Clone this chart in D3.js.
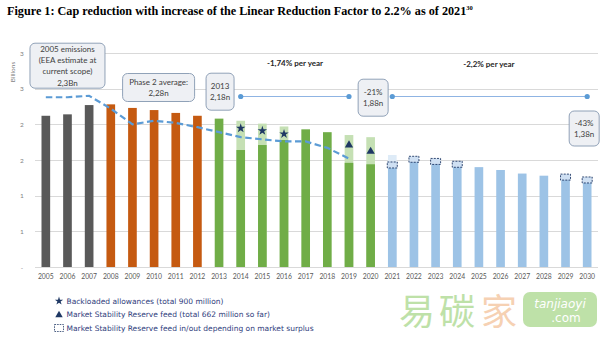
<!DOCTYPE html>
<html><head><meta charset="utf-8">
<script src="https://cdn.jsdelivr.net/npm/d3@7"></script>
<style>body{margin:0;background:#fff}</style>
</head><body>
<svg id="c" width="603" height="339"></svg>
<script>
// ---------- DATA ----------
const years = ["2005","2006","2007","2008","2009","2010","2011","2012","2013","2014","2015","2016","2017","2018","2019","2020","2021","2022","2023","2024","2025","2026","2027","2028","2029","2030"];
const phases = ["hist","hist","hist","p2","p2","p2","p2","p2","p3","p3","p3","p3","p3","p3","p3","p3","p4","p4","p4","p4","p4","p4","p4","p4","p4","p4"];
const capValues = [2.12,2.14,2.27,2.28,2.23,2.20,2.16,2.12,2.08,1.64,1.71,1.78,1.93,1.89,1.46,1.44,1.44,1.54,1.50,1.46,1.40,1.36,1.31,1.28,1.27,1.23];
const reserveTops = [null,null,null,null,null,null,null,null,null,2.05,2.01,1.97,null,null,1.85,1.82,1.57,null,null,null,null,null,null,null,null,null];
const emissionYears = ["2005","2006","2007","2008","2009","2010","2011","2012","2013","2014","2015","2016","2017","2018","2019"];
const emissionValues = [2.38,2.38,2.40,2.22,2.00,2.05,2.02,1.96,1.89,1.82,1.79,1.76,1.76,1.67,1.52];
const backloadYears = ["2014","2015","2016"];
const backloadValues = [1.945,1.91,1.865];
const msrYears = ["2019","2020"];
const msrValues = [1.71,1.62];
const flexYears = ["2021","2022","2023","2024","2029","2030"];
const flexValues = [1.43,1.51,1.48,1.44,1.26,1.22];
const refSegments = [["2014","2019"],["2021","2030"]];
const refValue = 2.39;
const yTicks = [0,0.5,1,1.5,2,2.5,3];
const yTickLabels = ["-","1","1","2","2","3","3"];
const legendLabels = ["Backloaded allowances (total 900 million)","Market Stability Reserve feed (total 662 million so far)","Market Stability Reserve feed in/out depending on market surplus"];
const rateLabels = ["-1,74% per year","-2,2% per year"];
const annotationTexts = [["2005 emissions","(EEA estimate at","current scope)","2,3Bn"],["Phase 2 average:","2,28n"],["2013","2,18n"],["-21%","1,88n"],["-43%","1,38n"]];

// ---------- LAYOUT ----------
const svg = d3.select("#c");
const x = d3.scaleBand().domain(years).range([35,598]).paddingInner(0.6).paddingOuter(0.3);
const y = d3.scaleLinear().domain([0,3]).range([267,53]);
const cx = yr => x(yr) + x.bandwidth()/2;
const colors = {hist:"#595959",p2:"#c55a11",p3:"#70ad47",p4:"#9dc3e6"};
const lightColors = {p3:"#c5e0b4",p4:"#deebf7"};
const navy = "#1f3864";

// title
const t = svg.append("text").attr("x",7).attr("y",15)
  .attr("font-family","Liberation Serif, Times New Roman, serif").attr("font-weight","bold")
  .attr("font-size",12.2).attr("fill","#000");
t.append("tspan").text("Figure 1: Cap reduction with increase of the Linear Reduction Factor to 2.2% as of 2021");
t.append("tspan").attr("font-size",6.5).attr("dy",-5).text("30");

// grid
svg.append("g").selectAll("line").data(yTicks).join("line")
  .attr("x1",35).attr("x2",598).attr("y1",d=>Math.round(y(d))+0.5).attr("y2",d=>Math.round(y(d))+0.5)
  .attr("stroke","#d9d9d9").attr("stroke-width",1);
svg.append("g").selectAll("text").data(yTicks).join("text")
  .attr("x",22).attr("y",d=>y(d)+2.5).attr("text-anchor","middle")
  .attr("font-family","Lato, sans-serif").attr("font-size",6.5).attr("fill","#7f7f7f")
  .text((d,i)=>yTickLabels[i]);
svg.append("text").attr("transform","translate(15,72) rotate(-90)").attr("text-anchor","middle")
  .attr("font-family","Lato, sans-serif").attr("font-size",6.5).attr("fill","#7f7f7f").text("Billions");

// x axis labels
svg.append("g").selectAll("text").data(years).join("text")
  .attr("x",d=>cx(d)).attr("y",279).attr("text-anchor","middle")
  .attr("font-family","Lato, sans-serif").attr("font-size",6.8).attr("fill","#595959").text(d=>d);

// bars: light reserve tops
const barData = years.map((yr,i)=>({yr,phase:phases[i],v:capValues[i],top:reserveTops[i]}));
svg.append("g").selectAll("rect").data(barData.filter(d=>d.top!=null)).join("rect")
  .attr("x",d=>x(d.yr)).attr("width",x.bandwidth())
  .attr("y",d=>y(d.top)).attr("height",d=>y(0)-y(d.top))
  .attr("fill",d=>lightColors[d.phase]);
svg.append("g").selectAll("rect").data(barData).join("rect")
  .attr("x",d=>x(d.yr)).attr("width",x.bandwidth())
  .attr("y",d=>y(d.v)).attr("height",d=>y(0)-y(d.v))
  .attr("fill",d=>colors[d.phase]);

// emissions dashed line
svg.append("path").datum(emissionYears.map((yr,i)=>[cx(yr),y(emissionValues[i])]))
  .attr("d",d3.line()).attr("fill","none").attr("stroke","#5b9bd5")
  .attr("stroke-width",2.2).attr("stroke-dasharray","6.5,3.5");

// reference line with dots
refSegments.forEach(seg=>{
  svg.append("line").attr("x1",cx(seg[0])).attr("x2",cx(seg[1])).attr("y1",y(refValue)).attr("y2",y(refValue))
    .attr("stroke","#8fb4e3").attr("stroke-width",1);
  seg.forEach(yr=>svg.append("circle").attr("cx",cx(yr)).attr("cy",y(refValue)).attr("r",2.6).attr("fill","#5b9bd5"));
});

// markers
svg.append("g").selectAll("path").data(backloadYears).join("path")
  .attr("transform",(d,i)=>`translate(${cx(d)},${y(backloadValues[i])})`)
  .attr("d",d3.symbol(d3.symbolStar,28)).attr("fill",navy);
svg.append("g").selectAll("path").data(msrYears).join("path")
  .attr("transform",(d,i)=>`translate(${cx(d)},${y(msrValues[i])})`)
  .attr("d",d3.symbol(d3.symbolTriangle,30)).attr("fill",navy);
svg.append("g").selectAll("rect").data(flexYears).join("rect")
  .attr("x",d=>cx(d)-5).attr("y",(d,i)=>y(flexValues[i])-3).attr("width",10).attr("height",6)
  .attr("fill","#cfe0f3").attr("stroke",navy).attr("stroke-width",0.9).attr("stroke-dasharray","2,1.2");

// rate labels
[[cx("2016")+11,63,rateLabels[0]],[cx("2025")+10,64,rateLabels[1]]].forEach(r=>{
  svg.append("text").attr("x",r[0]).attr("y",r[1]+3).attr("text-anchor","middle")
    .attr("font-family","Lato, sans-serif").attr("font-weight","bold").attr("font-size",8)
    .attr("fill","#262626").text(r[2]);
});

// annotation boxes (anchored to year centres)
const boxes = [
  {cxp:cx("2006"),cy:65.7,w:75,h:45},
  {cxp:cx("2010")+4.5,cy:87.5,w:72,h:28},
  {cxp:cx("2013")+1,cy:91.7,w:28,h:37},
  {cxp:(cx("2019")+cx("2021"))/2+2.5,cy:97.7,w:30,h:37},
  {cxp:cx("2030")-3,cy:128.5,w:30,h:35}
];
boxes.forEach((b,i)=>{
  const g = svg.append("g");
  g.append("rect").attr("x",b.cxp-b.w/2).attr("y",b.cy-b.h/2).attr("width",b.w).attr("height",b.h)
    .attr("rx",5).attr("fill","#eef0f4").attr("stroke","#8497b0").attr("stroke-width",0.9);
  const lines = annotationTexts[i];
  const lh = 11.2;
  lines.forEach((s,j)=>{
    g.append("text").attr("x",b.cxp).attr("y",b.cy+(j-(lines.length-1)/2)*lh+3)
      .attr("text-anchor","middle").attr("font-family","Lato, sans-serif").attr("font-size",8)
      .attr("fill","#404040").text(s);
  });
});

// legend
const lg = svg.append("g");
legendLabels.forEach((s,i)=>{
  const ly = 301 + i*13.5;
  lg.append("text").attr("x",66.5).attr("y",ly+2.8).attr("font-family","DejaVu Sans, Verdana, sans-serif")
    .attr("font-size",7.5).attr("fill","#2f3d7c").text(s);
});
lg.append("path").attr("transform","translate(59,301)").attr("d",d3.symbol(d3.symbolStar,22)).attr("fill",navy);
lg.append("path").attr("transform","translate(59,315)").attr("d",d3.symbol(d3.symbolTriangle,24)).attr("fill",navy);
lg.append("rect").attr("x",54.5).attr("y",324.5).attr("width",9).attr("height",7)
  .attr("fill","#fff").attr("stroke",navy).attr("stroke-width",0.8).attr("stroke-dasharray","1.6,1");

// watermark
const wm = svg.append("g").attr("opacity",0.75);
[["易",399,"#a9d78c"],["碳",439,"#a9d78c"],["家",481,"#f3c29a"]].forEach(c=>{
  wm.append("text").attr("x",c[1]).attr("y",325).attr("font-family","Noto Sans CJK SC, sans-serif")
    .attr("font-size",36).attr("fill",c[2]).text(c[0]);
});
wm.append("rect").attr("x",523).attr("y",292).attr("width",74).attr("height",35).attr("rx",7).attr("fill","#a9d78c");
wm.append("text").attr("x",560).attr("y",308).attr("text-anchor","middle").attr("font-family","DejaVu Sans, sans-serif")
  .attr("font-style","italic").attr("font-size",12).attr("fill","#fff").text("tanjiaoyi");
wm.append("text").attr("x",566).attr("y",322).attr("text-anchor","middle").attr("font-family","DejaVu Sans, sans-serif")
  .attr("font-size",12).attr("fill","#fff").text(".com");
</script>
</body></html>
